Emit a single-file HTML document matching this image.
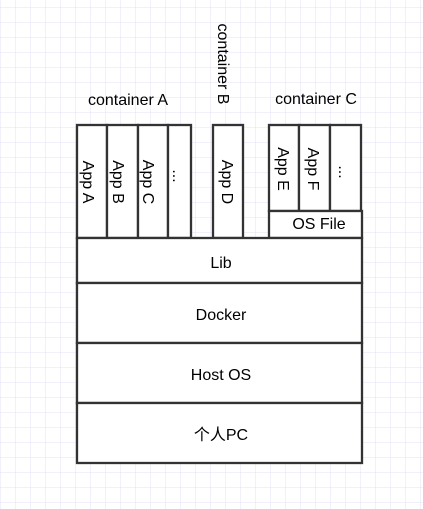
<!DOCTYPE html>
<html><head><style>
html,body{margin:0;padding:0;background:#fff}
svg{display:block}
text{font-family:"Liberation Sans","Noto Sans CJK SC",sans-serif;font-size:16px;fill:#000}
</style></head><body>
<svg width="423" height="509" viewBox="0 0 423 509">
<defs>
<pattern id="g" width="15" height="15" patternUnits="userSpaceOnUse" x="0" y="7">
<path d="M0 0H15M0 0V15" stroke="#e4e0f6" stroke-width="1" fill="none"/>
</pattern>
</defs>
<rect width="423" height="509" fill="url(#g)"/>
<g fill="#fff" stroke="#333" stroke-width="2.3">
<rect x="77" y="125" width="30" height="113"/>
<rect x="107" y="125" width="31" height="113"/>
<rect x="138" y="125" width="30" height="113"/>
<rect x="168" y="125" width="23" height="113"/>
<rect x="213" y="125" width="30" height="113"/>
<rect x="269" y="125" width="30" height="86"/>
<rect x="299" y="125" width="31" height="86"/>
<rect x="330" y="125" width="31" height="86"/>
<rect x="269" y="211" width="93" height="27"/>
<rect x="77" y="238" width="285" height="45"/>
<rect x="77" y="283" width="285" height="60"/>
<rect x="77" y="343" width="285" height="60"/>
<rect x="77" y="403" width="285" height="60"/>
</g>
<text x="128" y="105" text-anchor="middle">container A</text>
<text x="316" y="104" text-anchor="middle">container C</text>
<text transform="translate(218,64) rotate(90)" text-anchor="middle">container B</text>
<g text-anchor="middle">
<text transform="translate(83,182) rotate(90)">App A</text>
<text transform="translate(113,182) rotate(90)">App B</text>
<text transform="translate(143,182) rotate(90)">App C</text>
<text transform="translate(173,176) rotate(90)">...</text>
<text transform="translate(222,182) rotate(90)">App D</text>
<text transform="translate(278,169) rotate(90)">App E</text>
<text transform="translate(308,169) rotate(90)">App F</text>
<text transform="translate(339,172) rotate(90)">...</text>
<text x="319" y="229">OS File</text>
<text x="221" y="268">Lib</text>
<text x="221" y="320">Docker</text>
<text x="221" y="380">Host OS</text>
<text x="221" y="440">个人PC</text>
</g>
</svg>
</body></html>
